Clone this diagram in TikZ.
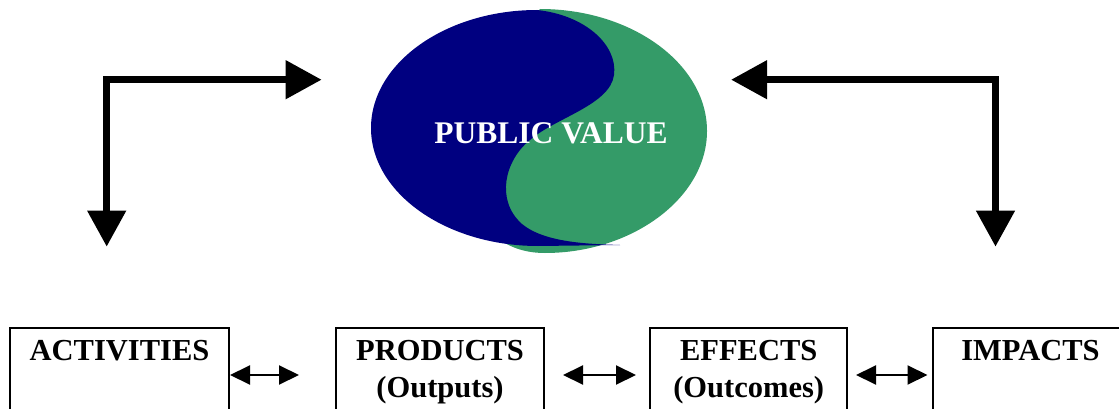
\documentclass[tikz,border=0pt]{standalone}
\usepackage{fontspec}
\setmainfont{Liberation Serif}
\usetikzlibrary{arrows.meta}
\definecolor{pvblue}{RGB}{0,0,128}
\definecolor{pvgreen}{RGB}{52,155,104}
\newcommand{\boxtxt}[2]{\parbox[t][90pt][t]{#1}{\vspace*{6.5pt}\centering\strut #2}}
\tikzset{
  bigarrow/.style={line width=7.5pt, {Triangle[length=36pt,width=37pt]}-{Triangle[length=36pt,width=37pt]}},
  dblarrow/.style={line width=2pt, {Triangle[length=20pt,width=19pt]}-{Triangle[length=20pt,width=19pt]}},
  stagebox/.style={draw, line width=2pt, inner sep=0pt, anchor=north},
}
\begin{document}
\begin{tikzpicture}[x=1pt,y=-1pt]
\clip (0,0) rectangle (1119,409);
\fill[white] (0,0) rectangle (1119,409);
\fontsize{30.5}{37}\selectfont\bfseries
% public value yin-yang ellipse
\fill[pvgreen] (540,9)
  .. controls (632,9) and (707,64) .. (707,131)
  .. controls (707,198) and (632,253) .. (545,253)
  .. controls (530,253) and (515,250) .. (500,240)
  -- (490,60) -- cycle;
\fill[pvblue] (537,10)
  .. controls (585,15) and (618,45) .. (614,75)
  .. controls (610,105) and (555,118) .. (530,140)
  .. controls (505,160) and (495,200) .. (522,224)
  .. controls (545,243) and (590,244) .. (620,245)
  -- (538,246)
  .. controls (446,246) and (371,193) .. (371,128)
  .. controls (371,63) and (446,10) .. (537,10) -- cycle;
\node[text=white, anchor=base, inner sep=0pt, font=\fontsize{31.5}{37}\selectfont\bfseries] (pv) at (551,143) {PUBLIC VALUE};
% boxes
\node[stagebox] (act) at (119.5,327) {\boxtxt{219pt}{ACTIVITIES}};
\node[stagebox] (prod) at (440,327) {\boxtxt{208pt}{PRODUCTS\\(Outputs)}};
\node[stagebox] (eff) at (748.7,327) {\boxtxt{197pt}{EFFECTS\\(Outcomes)}};
\node[stagebox] (imp) at (1030.5,327) {\boxtxt{195pt}{IMPACTS}};
% big L arrows
\coordinate (ltipd) at (106.7,246.7);
\coordinate (ltipr) at (321.7,79.7);
\coordinate (rtipl) at (731,79.7);
\coordinate (rtipd) at (995.5,246.7);
\draw[bigarrow] (ltipd) |- (ltipr);
\draw[bigarrow] (rtipl) -| (rtipd);
% small double arrows
\coordinate (a1) at (299,375);
\coordinate (a2l) at (563,375);
\coordinate (a2r) at (636,375);
\coordinate (a3l) at (856,375);
\coordinate (a3r) at (927.5,375);
\draw[dblarrow] (act.east |- a1) -- (a1);
\draw[dblarrow] (a2l) -- (a2r);
\draw[dblarrow] (a3l) -- (a3r);
\end{tikzpicture}
\end{document}
